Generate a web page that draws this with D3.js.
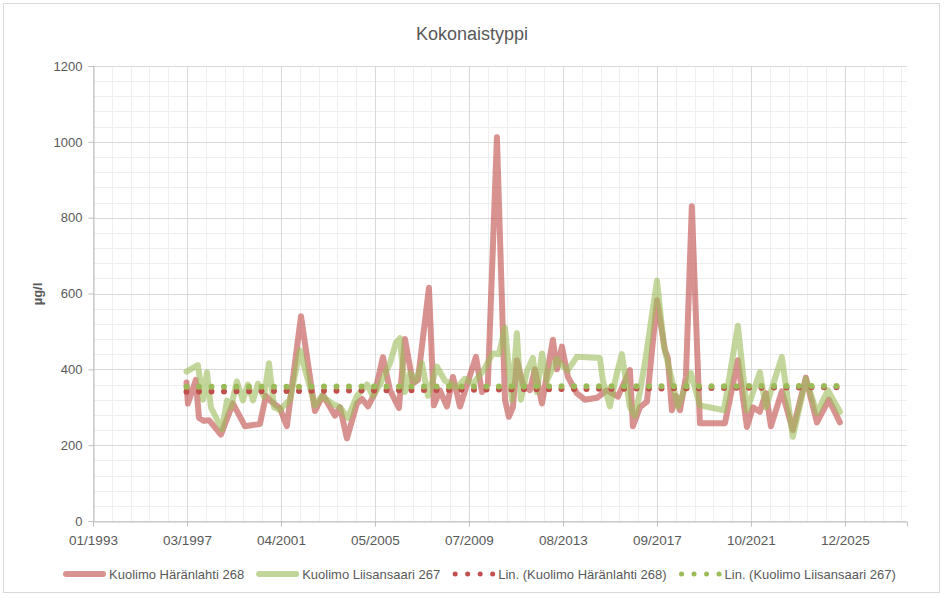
<!DOCTYPE html>
<html><head><meta charset="utf-8">
<script src="https://cdn.jsdelivr.net/npm/d3@7"></script>
<style>
body{margin:0;background:#fff}
text{font-family:"Liberation Sans",Arial,sans-serif;fill:#595959}
</style>
</head><body>
<svg id="c" width="944" height="598"></svg>
<script>
const chartTitle = "Kokonaistyppi";
const yAxisTitle = "µg/l";
const seriesNames = ["Kuolimo Häränlahti 268", "Kuolimo Liisansaari 267"];
const trendNames = ["Lin. (Kuolimo Häränlahti 268)", "Lin. (Kuolimo Liisansaari 267)"];
const xTickLabels = ["01/1993","03/1997","04/2001","05/2005","07/2009","08/2013","09/2017","10/2021","12/2025"];
const yTickValues = [0,200,400,600,800,1000,1200];
const axisStart = "1993-01-26", axisEnd = "2028-08-20";
const majorStepDays = 1500, minorStepDays = 300, yMinorStep = 40;

const haranDates = ["1997-02-26","1997-03-20","1997-07-25","1997-09-13","1997-12-02","1998-02-20","1998-08-29","1999-03-08","1999-09-17","2000-05-13","2000-08-17","2000-10-20","2001-03-27","2001-07-17","2002-02-27","2002-10-08","2003-02-13","2003-08-22","2003-11-11","2004-03-01","2004-08-08","2004-10-27","2005-02-01","2005-05-21","2005-09-27","2006-01-17","2006-06-09","2006-09-13","2007-01-19","2007-04-08","2007-10-01","2007-12-19","2008-03-23","2008-07-14","2008-10-18","2009-02-08","2009-05-12","2009-10-20","2010-01-24","2010-04-28","2010-09-20","2011-01-26","2011-03-29","2011-06-02","2011-08-05","2011-11-09","2012-02-28","2012-05-18","2012-09-08","2013-03-01","2013-05-04","2013-07-23","2013-10-27","2014-03-18","2014-07-24","2015-02-03","2015-07-10","2016-01-03","2016-07-12","2016-08-29","2016-12-19","2017-04-10","2017-09-17","2018-01-23","2018-03-10","2018-05-13","2018-07-16","2018-09-19","2018-12-23","2019-03-27","2019-08-03","2020-09-06","2021-03-31","2021-08-22","2021-11-26","2022-03-16","2022-06-21","2022-09-10","2023-03-03","2023-08-25","2024-03-20","2024-09-13","2025-03-21","2025-09-14"];
const haranValues = [365,310,372,272,264,266,228,310,250,256,330,318,298,250,540,290,332,278,300,218,310,322,302,337,432,345,298,480,363,372,615,305,345,302,380,302,350,433,340,360,1012,320,275,300,424,360,345,400,310,478,400,460,380,337,320,325,345,328,398,250,300,315,582,450,430,292,330,292,380,830,258,258,424,248,300,288,337,250,342,240,378,260,320,260];

const liisaDates = ["1997-02-26","1997-08-27","1997-11-16","1998-01-19","1998-03-22","1998-09-15","1998-12-04","1999-02-06","1999-05-11","1999-08-15","1999-11-04","2000-01-23","2000-04-11","2000-07-16","2000-10-04","2000-12-23","2001-03-27","2001-09-04","2002-02-12","2002-06-02","2002-10-08","2003-01-28","2003-07-05","2003-11-11","2004-03-16","2004-08-08","2005-01-16","2005-04-20","2005-08-10","2006-01-17","2006-04-22","2006-06-25","2006-09-13","2006-12-02","2007-03-06","2007-06-11","2007-09-15","2008-02-06","2008-06-12","2008-12-21","2009-04-26","2009-09-03","2010-02-10","2010-07-17","2010-10-22","2011-01-26","2011-05-16","2011-08-05","2011-10-08","2012-01-12","2012-04-16","2012-06-19","2012-09-08","2012-11-26","2013-05-04","2013-07-23","2013-10-27","2014-03-18","2015-03-20","2015-05-07","2015-08-27","2015-12-17","2016-03-06","2016-07-12","2016-09-30","2016-12-19","2017-03-23","2017-09-17","2018-01-07","2018-05-13","2018-08-17","2019-03-12","2019-08-03","2020-08-20","2021-03-31","2021-08-22","2022-03-16","2022-06-21","2023-03-03","2023-08-25","2024-03-20","2024-09-13","2025-03-06","2025-09-14"];
const liisaValues = [394,411,320,392,300,242,318,300,368,318,360,318,362,328,416,300,293,320,450,381,305,330,310,300,272,330,360,330,360,416,470,482,340,390,370,416,330,407,370,352,375,362,395,442,440,510,320,495,320,395,430,340,442,370,428,410,398,433,430,372,302,390,440,300,278,340,432,634,460,372,302,390,305,292,515,292,392,300,433,222,375,285,345,288];

const haranTrend = [341, 353];
const liisaTrend = [354, 356];

const parse = d3.timeParse("%Y-%m-%d");
const svg = d3.select("#c");
const L = 93, R = 907, T = 66, B = 521;
const start = parse(axisStart), end = parse(axisEnd);
const x = d3.scaleTime().domain([start, end]).range([L, R]);
const y = d3.scaleLinear().domain([0, 1200]).range([B, T]);

// outer border
svg.append("rect").attr("x", 3.5).attr("y", 3.5).attr("width", 936).attr("height", 589)
  .attr("fill", "#fff").attr("stroke", "#d9d9d9");

// minor grid
const totalDays = d3.timeDay.count(start, end);
const g = svg.append("g");
d3.range(0, totalDays, minorStepDays).forEach(dd => {
  const xv = Math.round(x(d3.timeDay.offset(start, dd))) + 0.5;
  g.append("line").attr("x1", xv).attr("x2", xv).attr("y1", T).attr("y2", B).attr("stroke", "#efefef");
});
d3.range(0, 1201, yMinorStep).forEach(v => {
  const yv = Math.round(y(v)) + 0.5;
  g.append("line").attr("x1", L).attr("x2", R).attr("y1", yv).attr("y2", yv).attr("stroke", "#efefef");
});
// major grid
const xTickDates = xTickLabels.map((l, i) => d3.timeDay.offset(start, i * majorStepDays));
xTickDates.forEach(d => {
  const xv = Math.round(x(d)) + 0.5;
  g.append("line").attr("x1", xv).attr("x2", xv).attr("y1", T).attr("y2", B).attr("stroke", "#d9d9d9");
});
yTickValues.forEach(v => {
  const yv = Math.round(y(v)) + 0.5;
  g.append("line").attr("x1", L).attr("x2", R).attr("y1", yv).attr("y2", yv).attr("stroke", "#d9d9d9");
});

// axes
const xAxis = d3.axisBottom(x).tickValues(xTickDates).tickFormat((d, i) => xTickLabels[i]).tickSizeOuter(0).tickSize(5).tickPadding(9);
const gx = svg.append("g").attr("transform", `translate(0,${Math.round(B)+0.5})`).call(xAxis);
gx.select(".domain").attr("stroke", "#bfbfbf");
gx.selectAll(".tick line").attr("stroke", "#bfbfbf");
gx.selectAll(".tick text").style("font-size", "13.5px").attr("fill", "#595959");

const yAxis = d3.axisLeft(y).tickValues(yTickValues).tickFormat(d3.format("d")).tickSizeOuter(0).tickSize(5).tickPadding(6);
const gy = svg.append("g").attr("transform", `translate(${L+0.5},0)`).call(yAxis);
gy.select(".domain").attr("stroke", "#bfbfbf");
gy.selectAll(".tick line").attr("stroke", "#bfbfbf");
gy.selectAll(".tick text").style("font-size", "13px").attr("fill", "#595959");
svg.selectAll(".tick text").style("font-family", '"Liberation Sans",Arial,sans-serif');

// series
const colors = { red: "#c0504d", green: "#9bbb59" };
const line = d3.line().x(d => x(d.date)).y(d => y(d.v));
const haran = haranDates.map((d, i) => ({ date: parse(d), v: haranValues[i] }));
const liisa = liisaDates.map((d, i) => ({ date: parse(d), v: liisaValues[i] }));

svg.append("path").datum(haran).attr("d", line).attr("fill", "none")
  .attr("stroke", colors.red).attr("stroke-opacity", 0.62).attr("stroke-width", 6)
  .attr("stroke-linejoin", "round").attr("stroke-linecap", "round");
svg.append("path").datum(liisa).attr("d", line).attr("fill", "none")
  .attr("stroke", colors.green).attr("stroke-opacity", 0.6).attr("stroke-width", 6)
  .attr("stroke-linejoin", "round").attr("stroke-linecap", "round");

// trend lines
function trend(series, vals, col) {
  const pts = [{ date: series[0].date, v: vals[0] }, { date: series[series.length - 1].date, v: vals[1] }];
  svg.append("path").datum(pts).attr("d", line).attr("fill", "none")
    .attr("stroke", col).attr("stroke-width", 6).attr("stroke-linecap", "round")
    .attr("stroke-dasharray", "0 12.5");
}
trend(haran, haranTrend, colors.red);
trend(liisa, liisaTrend, colors.green);

// title
svg.append("text").attr("x", 472).attr("y", 40).attr("text-anchor", "middle")
  .style("font-size", "18px").text(chartTitle);
// y axis title
svg.append("text").attr("transform", "translate(42,294) rotate(-90)").attr("text-anchor", "middle")
  .style("font-size", "13px").style("font-weight", "bold").text(yAxisTitle);

// legend
const legendItems = [
  { name: seriesNames[0], col: colors.red, type: "line" },
  { name: seriesNames[1], col: colors.green, type: "line" },
  { name: trendNames[0], col: colors.red, type: "dot" },
  { name: trendNames[1], col: colors.green, type: "dot" }
];
let lx = 63; const ly = 574;
legendItems.forEach(it => {
  const gl = svg.append("g");
  if (it.type === "line") {
    gl.append("line").attr("x1", lx + 3).attr("x2", lx + 40).attr("y1", ly).attr("y2", ly)
      .attr("stroke", it.col).attr("stroke-opacity", 0.62).attr("stroke-width", 6).attr("stroke-linecap", "round");
  } else {
    gl.append("line").attr("x1", lx + 3).attr("x2", lx + 43).attr("y1", ly).attr("y2", ly)
      .attr("stroke", it.col).attr("stroke-width", 5).attr("stroke-linecap", "round").attr("stroke-dasharray", "0 12.5");
  }
  const t = gl.append("text").attr("x", lx + 46).attr("y", ly + 4.5).style("font-size", "13px").text(it.name);
  lx = lx + 46 + t.node().getComputedTextLength() + 12;
});
</script>
</body></html>
